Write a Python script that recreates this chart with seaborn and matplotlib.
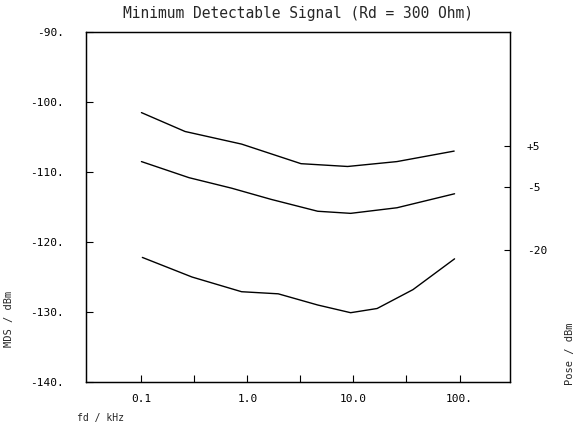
import numpy as np
import seaborn as sns
import matplotlib.pyplot as plt
import pandas as pd
from matplotlib.ticker import FixedLocator, NullFormatter

sns.set_theme(style = "white")
plt.rcParams['font.family'] = ['DejaVu Sans Mono', 'DejaVu Sans']

# curves, fd in kHz, MDS in dBm
fd_p5 = [0.1, 0.258, 0.88, 3.2, 8.8, 25.7, 89]
mds_p5 = [-101.5, -104.2, -106.0, -108.8, -109.2, -108.5, -107.0]

fd_m5 = [0.1, 0.281, 0.708, 1.67, 4.6, 9.4, 25.7, 89.8]
mds_m5 = [-108.5, -110.8, -112.3, -113.9, -115.6, -115.9, -115.1, -113.1]

fd_m20 = [0.102, 0.3, 0.88, 1.95, 4.6, 9.4, 16.7, 36.4, 89.8]
mds_m20 = [-122.2, -125.0, -127.1, -127.4, -129.0, -130.1, -129.5, -126.8, -122.4]

pose_labels = ["+5", "-5", "-20"]
pose_pos = [-106.3, -112.2, -121.2]

x_ticks = [0.1, 1.0, 10.0, 100.0]
x_ticklabels = ["0.1", "1.0", "10.0", "100."]
x_minor = [0.316, 3.16, 31.6]
y_ticks = [-90, -100, -110, -120, -130, -140]
y_ticklabels = ["-90.", "-100.", "-110.", "-120.", "-130.", "-140."]

df = pd.concat([
    pd.DataFrame({"fd": fd_p5, "mds": mds_p5, "pose": "+5"}),
    pd.DataFrame({"fd": fd_m5, "mds": mds_m5, "pose": "-5"}),
    pd.DataFrame({"fd": fd_m20, "mds": mds_m20, "pose": "-20"}),
])

fig = plt.figure(figsize = (5.87, 4.23), dpi = 100)
ax = fig.add_axes([0.1465, 0.097, 0.7225, 0.827])

sns.lineplot(data = df, x = "fd", y = "mds", hue = "pose", estimator = None, sort = False,
             palette = ["black"] * 3, linewidth = 1.0, legend = False, ax = ax)

ax.set_xscale("log")
ax.set_xlim(0.03, 300)
ax.set_ylim(-140, -90)

ax.xaxis.set_major_locator(FixedLocator(x_ticks))
ax.set_xticklabels(x_ticklabels)
ax.xaxis.set_minor_locator(FixedLocator(x_minor))
ax.xaxis.set_minor_formatter(NullFormatter())
ax.set_yticks(y_ticks)
ax.set_yticklabels(y_ticklabels)

ax.tick_params(axis = "both", which = "both", direction = "in", length = 5, width = 0.8,
               color = "black", labelsize = 8, labelcolor = "black",
               bottom = True, left = True, top = False, right = False)
ax.tick_params(axis = "y", pad = 16)
ax.tick_params(axis = "x", which = "both", pad = 9)
for s in ax.spines.values():
    s.set_color("black")
    s.set_linewidth(0.9)

ax.set_title("Minimum Detectable Signal (Rd = 300 Ohm)", fontsize = 10.5, pad = 10)
ax.set_xlabel("fd / kHz", fontsize = 7)
ax.xaxis.set_label_coords(0.035, -0.09)
ax.set_ylabel("MDS / dBm", fontsize = 7.5)
ax.yaxis.set_label_coords(-0.17, 0.18)

ax2 = ax.twinx()
ax2.set_ylim(-140, -90)
ax2.set_yticks(pose_pos)
ax2.set_yticklabels(pose_labels)
ax2.tick_params(axis = "y", direction = "in", length = 4, width = 0.8, color = "black",
                labelsize = 8, labelcolor = "black", pad = 12, right = True, left = False)
ax2.set_ylabel("Pose / dBm", fontsize = 7.5)
ax2.yaxis.set_label_coords(1.13, 0.08)
ax2.grid(False)
for s in ax2.spines.values():
    s.set_linewidth(0.9)
    s.set_color("black")

fig.savefig("out.png", dpi = 100)
